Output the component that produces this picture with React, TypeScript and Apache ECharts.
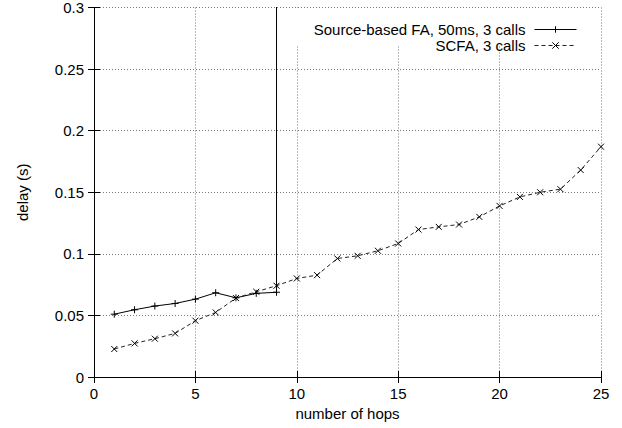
import React, { useEffect, useRef } from "react";
import * as echarts from "echarts";

const hopsSource = [1, 2, 3, 4, 5, 6, 7, 8, 9, 9];
const delaySource = [0.051, 0.0546, 0.0576, 0.0597, 0.0632, 0.0684, 0.0643, 0.0679, 0.0688, 0.4];

const hopsScfa = [1, 2, 3, 4, 5, 6, 7, 8, 9, 10, 11, 12, 13, 14, 15, 16, 17, 18, 19, 20, 21, 22, 23, 24, 25];
const delayScfa = [0.0227, 0.0273, 0.0311, 0.0354, 0.0457, 0.0524, 0.0641, 0.0692, 0.0741, 0.080, 0.0827, 0.0962, 0.0984, 0.1025, 0.1084, 0.1197, 0.1219, 0.1238, 0.130, 0.1389, 0.1462, 0.150, 0.1525, 0.168, 0.187];

const seriesNames = ["Source-based FA, 50ms, 3 calls", "SCFA, 3 calls"];
const xTitle = "number of hops";
const yTitle = "delay (s)";

const plusPath = "path://M0,5 L10,5 M5,0 L5,10";
const crossPath = "path://M0,0 L10,10 M0,10 L10,0";

const FONT = "'Liberation Sans', Arial, Helvetica, sans-serif";

export default function App() {
  const ref = useRef<HTMLDivElement>(null);
  useEffect(() => {
    if (!ref.current) return;
    const chart = echarts.init(ref.current, undefined, { renderer: "svg" });
    const labelStyle = { color: "#000", fontSize: 15, fontFamily: FONT };
    const axisCommon = {
      type: "value" as const,
      axisLine: { show: true, lineStyle: { color: "#000", width: 1 } },
      axisTick: { show: true, inside: true, length: 6, lineStyle: { color: "#000" } },
    };
    const legendCommon = {
      right: 40,
      align: "right",
      itemWidth: 42,
      itemHeight: 8,
      itemGap: 0,
      textStyle: { ...labelStyle, padding: [0, 4, 0, 0] },
      lineStyle: { width: 1 },
      itemStyle: { borderWidth: 1 },
      z: 5,
    };
    chart.setOption({
      animation: false,
      backgroundColor: "#fff",
      textStyle: { fontFamily: FONT },
      grid: { left: 94, right: 21, top: 7, bottom: 51, containLabel: false },
      xAxis: [
        {
          ...axisCommon,
          position: "bottom",
          min: 0,
          max: 25,
          interval: 5,
          axisLabel: { ...labelStyle, margin: 9 },
          splitLine: { show: true, lineStyle: { type: [1, 2], color: "#777", width: 1 } },
          name: xTitle,
          nameLocation: "middle",
          nameGap: 28,
          nameTextStyle: { ...labelStyle },
        },
        {
          ...axisCommon,
          position: "top",
          min: 0,
          max: 25,
          interval: 5,
          axisLabel: { show: false },
          splitLine: { show: false },
        },
      ],
      yAxis: [
        {
          ...axisCommon,
          position: "left",
          min: 0,
          max: 0.3,
          interval: 0.05,
          axisLabel: { ...labelStyle, margin: 10 },
          splitLine: { show: true, lineStyle: { type: [1, 2], color: "#777", width: 1 } },
          name: yTitle,
          nameLocation: "middle",
          nameGap: 64,
          nameRotate: 90,
          nameTextStyle: { ...labelStyle },
        },
        {
          ...axisCommon,
          position: "right",
          min: 0,
          max: 0.3,
          interval: 0.05,
          axisLabel: { show: false },
          splitLine: { show: false },
        },
      ],
      graphic: [
        {
          type: "rect",
          z: 3,
          shape: { x: 285, y: 8, width: 315, height: 37 },
          style: { fill: "#fff" },
        },
      ],
      legend: [
        { ...legendCommon, data: [seriesNames[0]], top: 17 },
        { ...legendCommon, data: [seriesNames[1]], top: 33 },
      ],
      series: [
        {
          name: seriesNames[0],
          type: "line",
          xAxisIndex: 0,
          yAxisIndex: 0,
          data: hopsSource.map((h, i) => [h, delaySource[i]]),
          symbol: plusPath,
          symbolSize: 7,
          clip: true,
          lineStyle: { color: "#000", width: 1, type: "solid" },
          itemStyle: { color: "#000", borderColor: "#000", borderWidth: 1 },
          z: 2,
        },
        {
          name: seriesNames[1],
          type: "line",
          xAxisIndex: 0,
          yAxisIndex: 0,
          data: hopsScfa.map((h, i) => [h, delayScfa[i]]),
          symbol: crossPath,
          symbolSize: 6,
          clip: true,
          lineStyle: { color: "#222", width: 1, type: [4, 3] },
          itemStyle: { color: "#000", borderColor: "#000", borderWidth: 1 },
          z: 2,
        },
      ],
    });
    return () => chart.dispose();
  }, []);
  return (
    <div
      ref={ref}
      style={{ position: "absolute", left: 0, top: 0, width: 622, height: 428 }}
    />
  );
}
